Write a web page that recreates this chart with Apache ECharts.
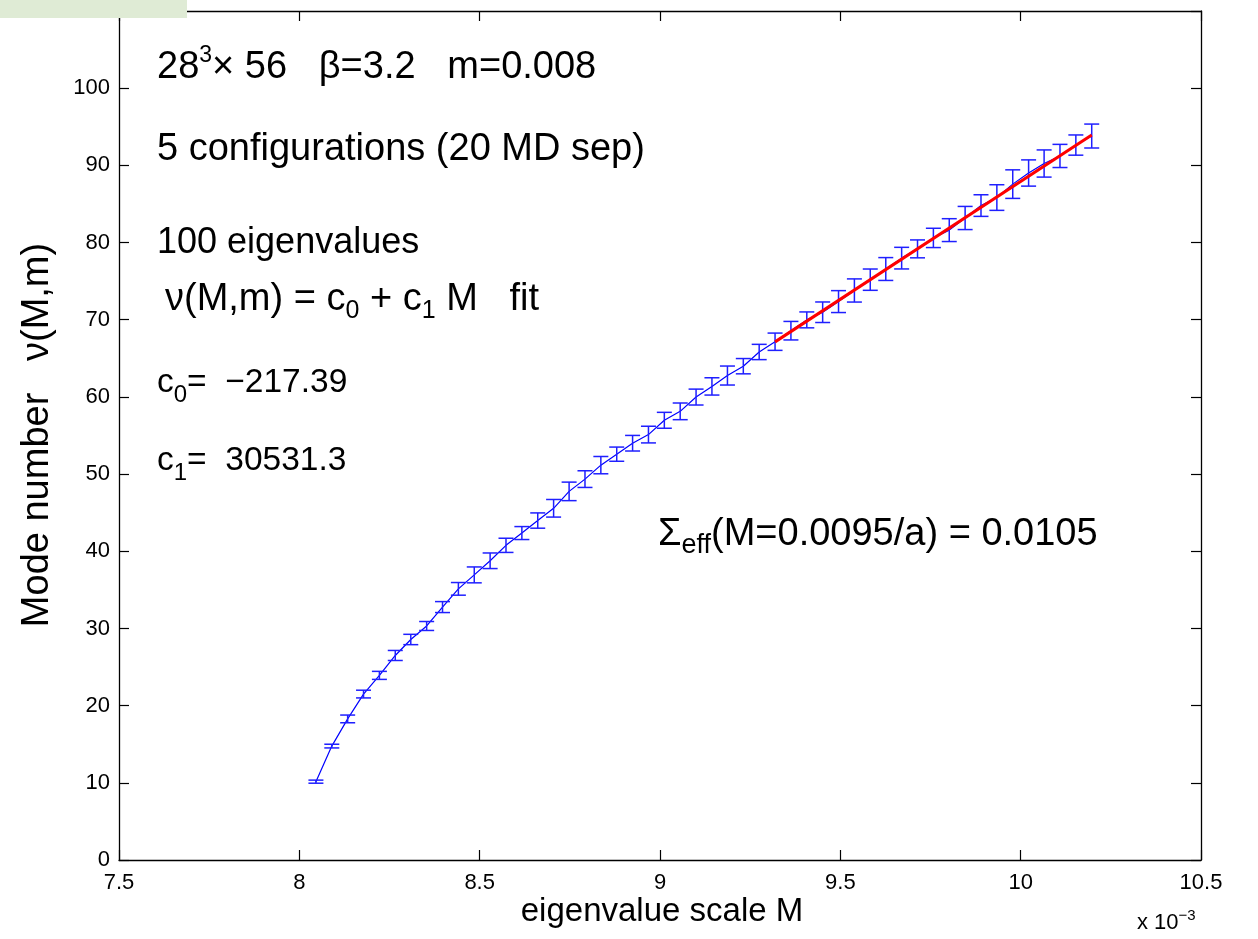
<!DOCTYPE html>
<html>
<head>
<meta charset="utf-8">
<script src="https://cdn.jsdelivr.net/npm/echarts@6/dist/echarts.min.js"></script>
<style>
  html, body { margin: 0; padding: 0; background: #fff; }
  #chart { width: 1258px; height: 939px; }
</style>
</head>
<body>
<div id="chart"></div>
<script>
// Eigenvalue scale M (units of 1e-3)
const scaleM = [8.046, 8.090, 8.134, 8.178, 8.222, 8.266, 8.309, 8.353, 8.397, 8.441,
                8.485, 8.529, 8.573, 8.617, 8.661, 8.705, 8.748, 8.792, 8.836, 8.880,
                8.924, 8.968, 9.012, 9.056, 9.100, 9.144, 9.187, 9.231, 9.275, 9.319,
                9.363, 9.407, 9.451, 9.495, 9.539, 9.583, 9.626, 9.670, 9.714, 9.758,
                9.802, 9.846, 9.890, 9.934, 9.978, 10.022, 10.065, 10.109, 10.153, 10.197];
// Mode number nu(M,m)
const modeNumber = [10.15, 14.76, 18.28, 21.50, 23.92, 26.50, 28.57, 30.32, 32.77, 35.13,
                    36.94, 38.77, 40.77, 42.36, 43.98, 45.57, 47.76, 49.35, 51.16, 52.58,
                    54.00, 55.12, 56.97, 58.13, 59.98, 61.36, 62.77, 63.98, 65.82, 67.15,
                    68.58, 69.98, 70.97, 72.35, 73.79, 75.19, 76.57, 77.98, 79.18, 80.60,
                    81.61, 83.18, 84.79, 85.83, 87.57, 89.01, 90.24, 91.22, 92.63, 93.80];
// Half-width of the error bars
const modeError = [0.20, 0.24, 0.50, 0.50, 0.52, 0.65, 0.67, 0.58, 0.71, 0.82,
                   1.03, 1.01, 0.92, 0.84, 0.99, 1.14, 1.20, 1.08, 1.12, 0.92,
                   1.01, 1.08, 1.03, 1.08, 1.03, 1.12, 1.23, 0.99, 0.99, 1.12,
                   1.20, 1.03, 1.33, 1.42, 1.50, 1.38, 1.48, 1.40, 1.16, 1.25,
                   1.48, 1.50, 1.40, 1.66, 1.85, 1.70, 1.76, 1.50, 1.31, 1.55];
// Linear fit nu = c0 + c1 M over the upper range of points
const fitC0 = -217.39;
const fitC1 = 30531.3;
const fitStart = 29;   // first point index included in the fit
const fitEnd = 49;

const xTicks = { min: 7.5, max: 10.5, interval: 0.5 };
const yTicks = { min: 0, max: 110, interval: 10 };

const FONT = '"Liberation Sans", Arial, Helvetica, sans-serif';

const lineData = scaleM.map((m, i) => [m, modeNumber[i]]);
const barData = scaleM.map((m, i) => [m, modeNumber[i] - modeError[i], modeNumber[i] + modeError[i]]);
const fitData = [fitStart, fitEnd].map(i => [scaleM[i], fitC0 + fitC1 * scaleM[i] * 1e-3]);

const chart = echarts.init(document.getElementById('chart'), null, { renderer: 'canvas' });

const axisCommon = {
  type: 'value',
  axisLine: { show: true, onZero: false, lineStyle: { color: '#000', width: 1.3 } },
  axisTick: { show: true, inside: true, length: 10, lineStyle: { color: '#000', width: 1.2 } },
  splitLine: { show: false }
};

// rich-text styles shared by the annotations
function richSet(size, subSize) {
  return {
    n: { fontFamily: FONT, fontSize: size, lineHeight: 48 },
    sup: { fontFamily: FONT, fontSize: subSize, lineHeight: 16, verticalAlign: 'top' },
    sub: { fontFamily: FONT, fontSize: subSize, lineHeight: 20, verticalAlign: 'bottom' }
  };
}
function note(x, y, text, size, subSize) {
  return {
    type: 'text', x: x, y: y, z: 50,
    style: { text: text, fill: '#000', align: 'left', verticalAlign: 'middle', rich: richSet(size, subSize || 24) }
  };
}

const option = {
  animation: false,
  backgroundColor: '#fff',
  grid: { left: 119, right: 57, top: 6, bottom: 79, containLabel: false },
  xAxis: [
    Object.assign({}, axisCommon, xTicks, {
      position: 'bottom',
      axisLabel: { show: true, color: '#000', fontFamily: FONT, fontSize: 22, margin: 12 }
    }),
    Object.assign({}, axisCommon, xTicks, {
      position: 'top',
      axisLabel: { show: false }
    })
  ],
  yAxis: [
    Object.assign({}, axisCommon, yTicks, {
      position: 'left',
      axisLabel: { show: true, color: '#000', fontFamily: FONT, fontSize: 22, margin: 9 }
    }),
    Object.assign({}, axisCommon, yTicks, {
      position: 'right',
      axisLabel: { show: false }
    })
  ],
  series: [
    {
      type: 'line',
      data: lineData,
      showSymbol: false,
      symbol: 'none',
      lineStyle: { color: '#0000ff', width: 1.2 },
      z: 2
    },
    {
      type: 'custom',
      data: barData,
      z: 3,
      renderItem: function (params, api) {
        const x = api.value(0);
        const lo = api.coord([x, api.value(1)]);
        const hi = api.coord([x, api.value(2)]);
        const cap = 7.5;
        const style = { stroke: '#1f1fff', lineWidth: 1.5, fill: null };
        return {
          type: 'group',
          children: [
            { type: 'line', shape: { x1: lo[0], y1: lo[1], x2: hi[0], y2: hi[1] }, style: style },
            { type: 'line', shape: { x1: lo[0] - cap, y1: lo[1], x2: lo[0] + cap, y2: lo[1] }, style: style },
            { type: 'line', shape: { x1: hi[0] - cap, y1: hi[1], x2: hi[0] + cap, y2: hi[1] }, style: style }
          ]
        };
      }
    },
    {
      type: 'line',
      data: fitData,
      showSymbol: false,
      symbol: 'none',
      lineStyle: { color: '#ff0000', width: 3 },
      z: 4
    }
  ],
  graphic: [
    // header strip in the top-left corner
    { type: 'rect', left: 0, top: 0, z: 100, shape: { width: 187, height: 18 }, style: { fill: '#dfebd5' } },
    note(157, 68, '{n|28}{sup|3}{n|× 56   β=3.2   m=0.008}', 38, 23),
    note(157, 150, '{n|5 configurations (20 MD sep)}', 38),
    note(157, 243, '{n|100 eigenvalues}', 36),
    note(165, 300, '{n|ν(M,m) = c}{sub|0}{n| + c}{sub|1}{n| M   fit}', 38, 25),
    note(157, 383, '{n|c}{sub|0}{n|=  −217.39}', 33.5, 24),
    note(157, 461, '{n|c}{sub|1}{n|=  30531.3}', 33.5, 24),
    note(658, 535, '{n|Σ}{sub|eff}{n|(M=0.0095/a) = 0.0105}', 38, 27),
    // axis titles
    {
      type: 'text', x: 662, y: 912, z: 50,
      style: { text: 'eigenvalue scale M', fill: '#000', font: '33px ' + FONT, align: 'center', verticalAlign: 'middle' }
    },
    {
      type: 'text', x: 38, y: 435, z: 50, rotation: Math.PI / 2,
      style: { text: 'Mode number   ν(M,m)', fill: '#000', font: '38px ' + FONT, align: 'center', verticalAlign: 'middle' }
    },
    {
      type: 'text', x: 1137, y: 923, z: 50,
      style: {
        text: '{n|x 10}{sup|−3}',
        fill: '#000', align: 'left', verticalAlign: 'middle',
        rich: {
          n: { fontFamily: FONT, fontSize: 22, lineHeight: 30 },
          sup: { fontFamily: FONT, fontSize: 15, lineHeight: 12, verticalAlign: 'top' }
        }
      }
    }
  ]
};

chart.setOption(option);
</script>
</body>
</html>
